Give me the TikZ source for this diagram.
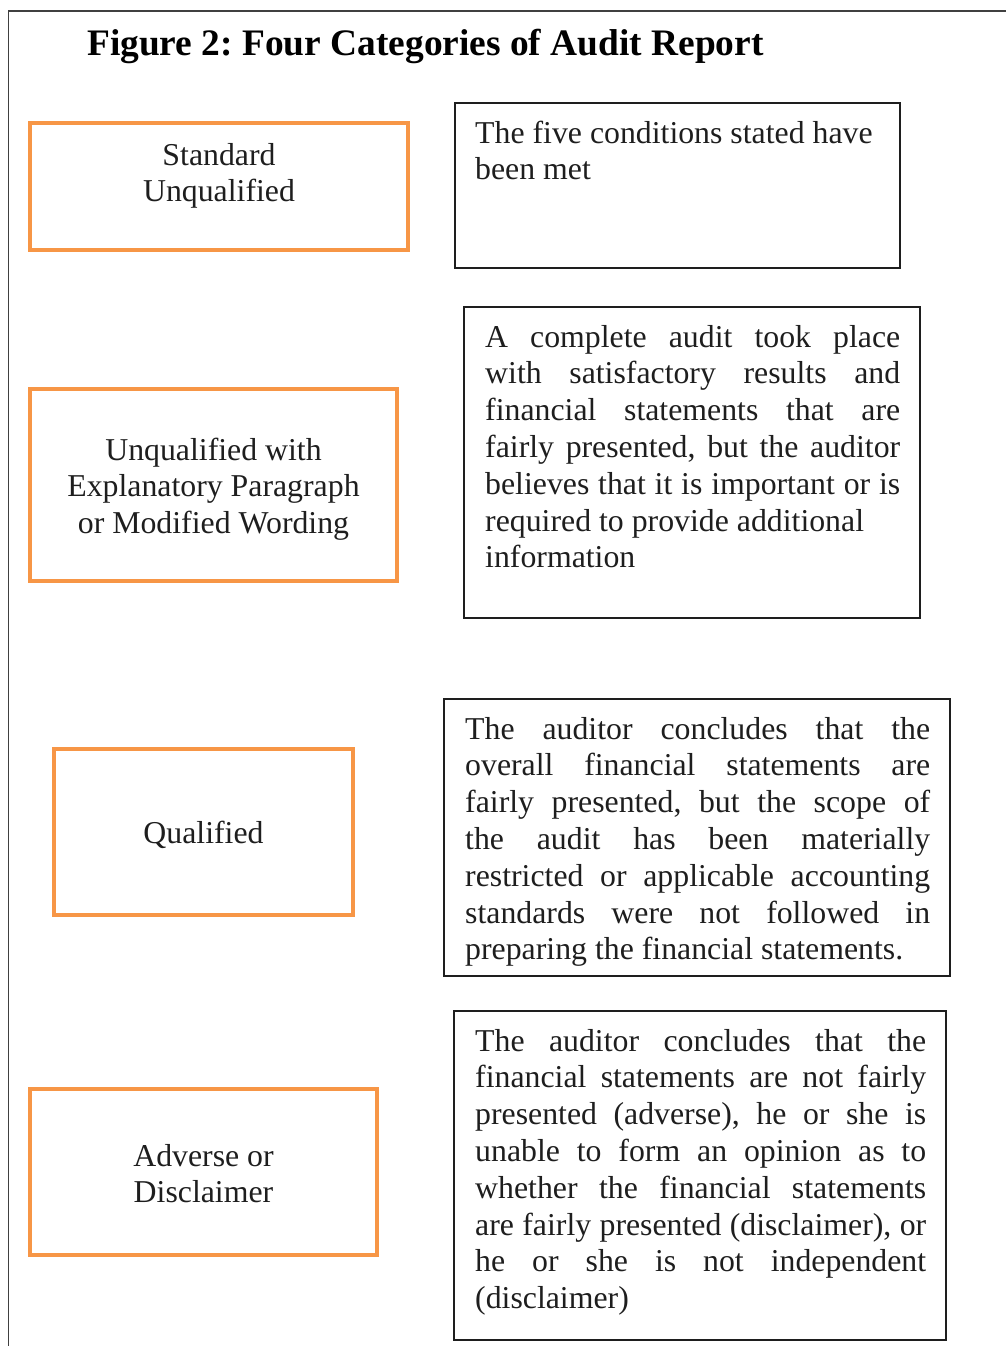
\documentclass[tikz,border=0pt]{standalone}
\usepackage{fontspec}
\setmainfont{Liberation Serif}
\usepackage{xcolor}
\usepackage{tikz}
\usetikzlibrary{positioning}
\definecolor{catorange}{HTML}{F79646}
\definecolor{inkgrey}{HTML}{1E1E1E}
\frenchspacing
\newcommand{\jl}[1]{\makebox[\hsize][s]{#1}}
\newcommand{\bodyfont}{\fontsize{31.8}{36.8}\selectfont\parindent=0pt}
% plain word spaces (align= sets wider ones)
\newcommand{\wsp}{\spaceskip=0pt\xspaceskip=0pt\relax}
\newcommand{\csp}{\spaceskip=\fontdimen2\font\xspaceskip=\fontdimen2\font\relax}

\begin{document}
\begin{tikzpicture}[x=1pt,y=-1pt,
  catbox/.style={draw=catorange,line width=4.5pt,rectangle,anchor=north west,inner sep=0pt,outer sep=0pt},
  descbox/.style={draw=inkgrey,line width=1.3pt,rectangle,anchor=north west,inner sep=0pt,outer sep=0pt},
  cattext/.style={anchor=north,align=center,inner sep=0pt,text width=360pt,text=inkgrey,font=\bodyfont},
  desctext/.style={anchor=north west,align=left,inner sep=0pt,text=inkgrey,font=\bodyfont}]
  \useasboundingbox (0,0) rectangle (1006,1346);
  % outer frame, cut at right and bottom
  \draw[inkgrey!85,line width=1.3pt] (8.3,1346) -- (8.3,11) -- (1006,11);
  \node[anchor=base west,inner sep=0pt,text=black,font=\fontsize{37.4}{42}\selectfont\bfseries] (title) at (87,56)
    {Figure 2: Four Categories of Audit Report};

  % categories
  \node[catbox,minimum width=378pt,minimum height=127pt] (std) at (30,123) {};
  \node[catbox,minimum width=367pt,minimum height=192pt] (expl) at (30,389) {};
  \node[catbox,minimum width=299pt,minimum height=166pt] (qual) at (54,749) {};
  \node[catbox,minimum width=347pt,minimum height=166pt] (adv) at (30,1089) {};

  \node[cattext] (stdtxt) at ([yshift=-16.2pt]std.north) {\csp\strut Standard\\Unqualified};
  \node[cattext] (expltxt) at ([yshift=-45.2pt]expl.north) {\csp\strut Unqualified with\\Explanatory Paragraph\\or Modified Wording};
  \node[cattext] (qualtxt) at ([yshift=-68.2pt]qual.north) {\csp\strut Qualified};
  \node[cattext] (advtxt) at ([yshift=-51.2pt]adv.north) {\csp\strut Adverse or\\Disclaimer};

  % descriptions
  \node[descbox,minimum width=445pt,minimum height=165pt] (stddesc) at (455,103) {};
  \node[descbox,minimum width=456pt,minimum height=311pt] (expldesc) at (464,307) {};
  \node[descbox,minimum width=506pt,minimum height=277pt] (qualdesc) at (444,699) {};
  \node[descbox,minimum width=492pt,minimum height=329pt] (advdesc) at (454,1011) {};

  \node[desctext,text width=405pt] (stddtxt) at ([xshift=20pt,yshift=-14.2pt]stddesc.north west)
    {\wsp\strut The five conditions stated have\\been met};
  \node[desctext,text width=415pt] (expldtxt) at ([xshift=21pt,yshift=-14.2pt]expldesc.north west)
    {\wsp\strut\jl{A complete audit took place}\\
     \jl{with satisfactory results and}\\
     \jl{financial statements that are}\\
     \jl{fairly presented, but the auditor}\\
     \jl{believes that it is important or is}\\
     required to provide additional\\
     information};
  \node[desctext,text width=465pt] (qualdtxt) at ([xshift=21pt,yshift=-14.2pt]qualdesc.north west)
    {\wsp\strut\jl{The auditor concludes that the}\\
     \jl{overall financial statements are}\\
     \jl{fairly presented, but the scope of}\\
     \jl{the audit has been materially}\\
     \jl{restricted or applicable accounting}\\
     \jl{standards were not followed in}\\
     preparing the financial statements.};
  \node[desctext,text width=451pt] (advdtxt) at ([xshift=21pt,yshift=-14.2pt]advdesc.north west)
    {\wsp\strut\jl{The auditor concludes that the}\\
     \jl{financial statements are not fairly}\\
     \jl{presented (adverse), he or she is}\\
     \jl{unable to form an opinion as to}\\
     \jl{whether the financial statements}\\
     \jl{are fairly presented (disclaimer), or}\\
     \jl{he or she is not independent}\\
     (disclaimer)};
\end{tikzpicture}
\end{document}
